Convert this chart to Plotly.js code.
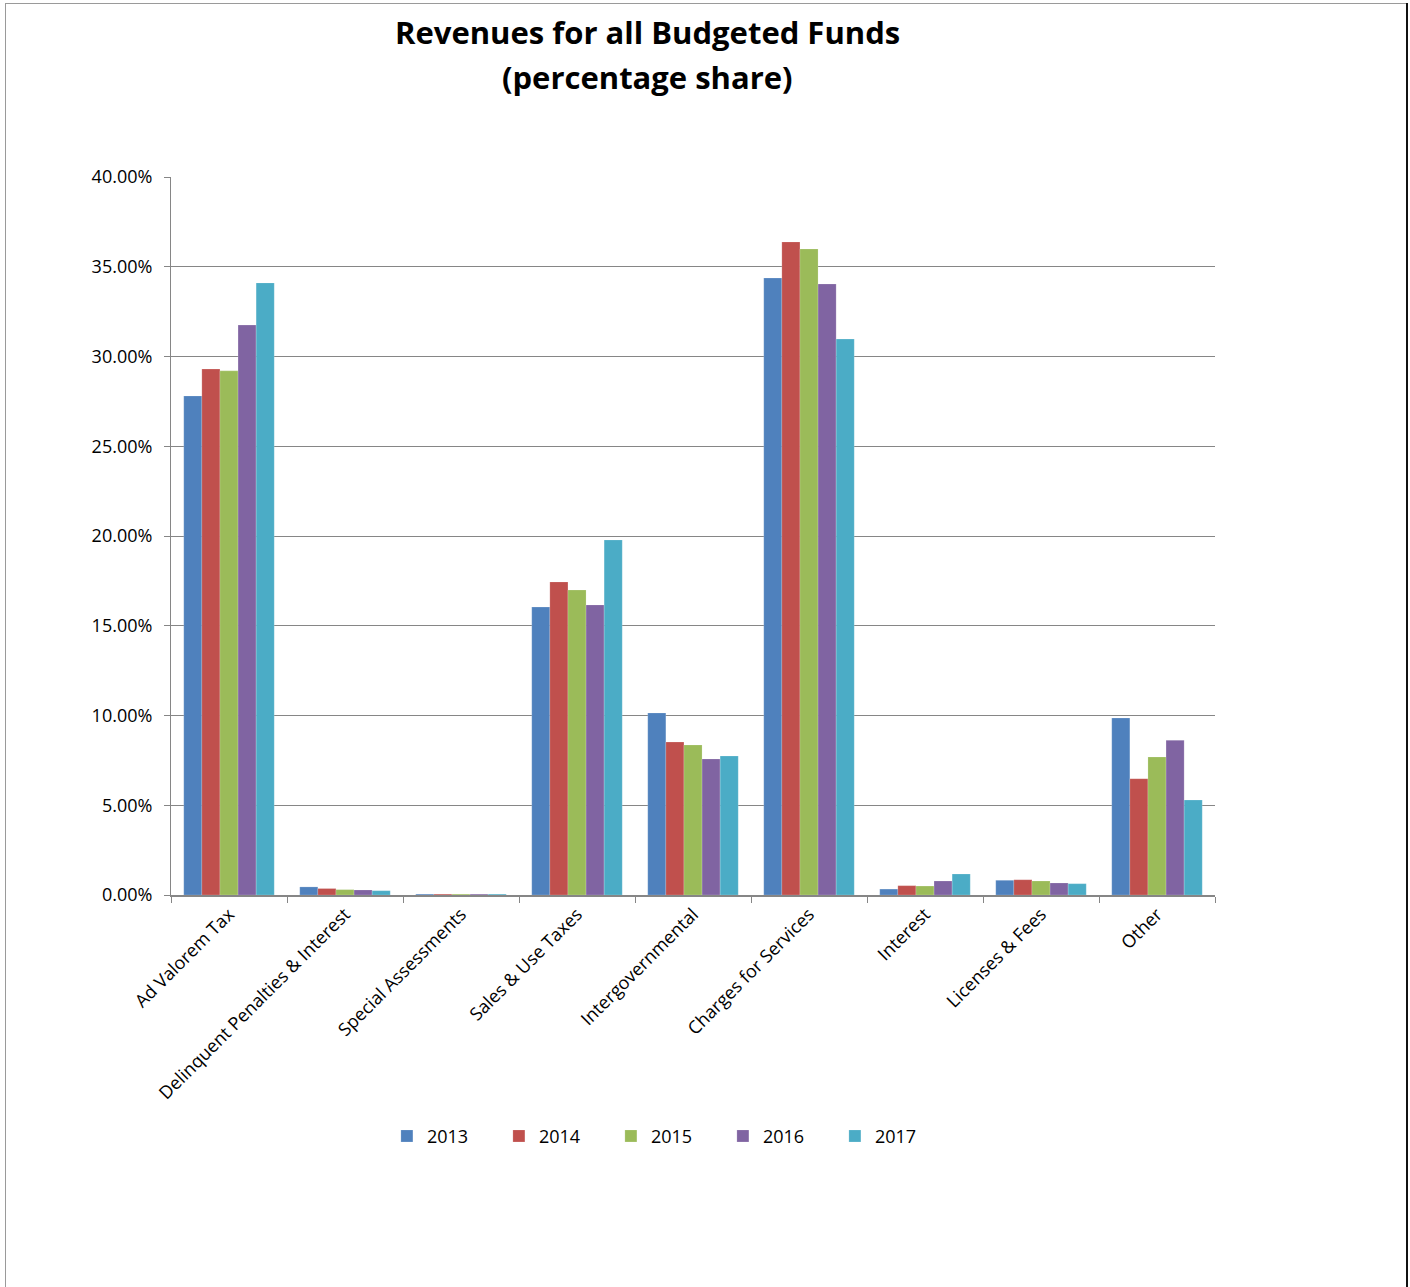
<!DOCTYPE html>
<html>
<head>
<meta charset="utf-8">
<script src="https://cdn.plot.ly/plotly-3.0.1.min.js"></script>
<style>
html,body{margin:0;padding:0;background:#fff;}
#wrap{position:relative;width:1410px;height:1287px;}
#chart{position:absolute;left:0;top:0;width:1410px;height:1287px;}
.bl{position:absolute;left:5px;top:3px;width:1px;height:1284px;background:#9a9a9a;}
.bt{position:absolute;left:5px;top:3px;width:1403px;height:1px;background:#9a9a9a;}
.br{position:absolute;left:1406px;top:3px;width:2px;height:1284px;background:#111;}
</style>
</head>
<body>
<div id="wrap">
<div id="chart"></div>
<div class="bl"></div><div class="bt"></div><div class="br"></div>
</div>
<script>
const titleLines = ["Revenues for all Budgeted Funds", "(percentage share)"];
const categories = ["Ad Valorem Tax","Delinquent Penalties & Interest","Special Assessments","Sales & Use Taxes","Intergovernmental","Charges for Services","Interest","Licenses & Fees","Other"];
const years = ["2013","2014","2015","2016","2017"];
const v2013 = [27.80, 0.45, 0.05, 16.04, 10.14, 34.37, 0.33, 0.82, 9.86];
const v2014 = [29.30, 0.36, 0.05, 17.44, 8.52, 36.38, 0.52, 0.85, 6.48];
const v2015 = [29.20, 0.30, 0.05, 16.99, 8.36, 35.99, 0.50, 0.78, 7.69];
const v2016 = [31.75, 0.28, 0.05, 16.16, 7.58, 34.04, 0.78, 0.67, 8.62];
const v2017 = [34.10, 0.24, 0.05, 19.78, 7.74, 30.97, 1.17, 0.63, 5.29];
const colors = ["#4F81BD","#C0504D","#9BBB59","#8064A2","#4BACC6"];
const series = [v2013, v2014, v2015, v2016, v2017];

const traces = series.map((vals, i) => ({
  type: "bar",
  name: years[i],
  x: categories,
  y: vals,
  marker: {color: colors[i], line: {color: "rgba(255,255,255,0.35)", width: 0.5}},
  hoverinfo: "x+y+name"
}));

const layout = {
  width: 1410, height: 1287,
  margin: {l: 171, r: 195, t: 177, b: 392},
  paper_bgcolor: "#fff", plot_bgcolor: "#fff",
  font: {family: "Open Sans, Liberation Sans, sans-serif", color: "#000"},
  annotations: [
    {text: "<b>" + titleLines[0] + "</b>", xref: "paper", yref: "paper", x: 0.456, y: 1.2019,
     xanchor: "center", yanchor: "middle", showarrow: false,
     font: {size: 31, family: "Open Sans, sans-serif", color: "#000"}},
    {text: "<b>" + titleLines[1] + "</b>", xref: "paper", yref: "paper", x: 0.456, y: 1.1393,
     xanchor: "center", yanchor: "middle", showarrow: false,
     font: {size: 31, family: "Open Sans, sans-serif", color: "#000"}}
  ],
  barmode: "group",
  bargap: 0.22,
  bargroupgap: 0,
  showlegend: true,
  legend: {
    orientation: "h", x: 0.475, xanchor: "center", y: -0.336, yanchor: "middle",
    font: {size: 18, color: "#000"}, entrywidth: 67, traceorder: "normal",
    itemclick: false, itemwidth: 30
  },
  xaxis: {
    type: "category",
    tickangle: -45,
    tickson: "boundaries",
    ticks: "outside", ticklen: 6, tickcolor: "#868686", tickwidth: 1,
    showline: true, linecolor: "#868686", linewidth: 1.5,
    showgrid: false,
    tickfont: {size: 18, color: "#000"},
    automargin: false
  },
  yaxis: {
    range: [0, 40],
    dtick: 5,
    tickformat: ".2f", ticksuffix: "%",
    ticks: "outside", ticklen: 6, tickcolor: "#868686",
    ticklabelstandoff: 8,
    showline: true, linecolor: "#868686", linewidth: 1,
    showgrid: true, gridcolor: "#868686", gridwidth: 1,
    zeroline: false,
    tickfont: {size: 18, color: "#000"},
    automargin: false
  }
};

Plotly.newPlot("chart", traces, layout, {displayModeBar: false, staticPlot: false});
</script>
</body>
</html>
